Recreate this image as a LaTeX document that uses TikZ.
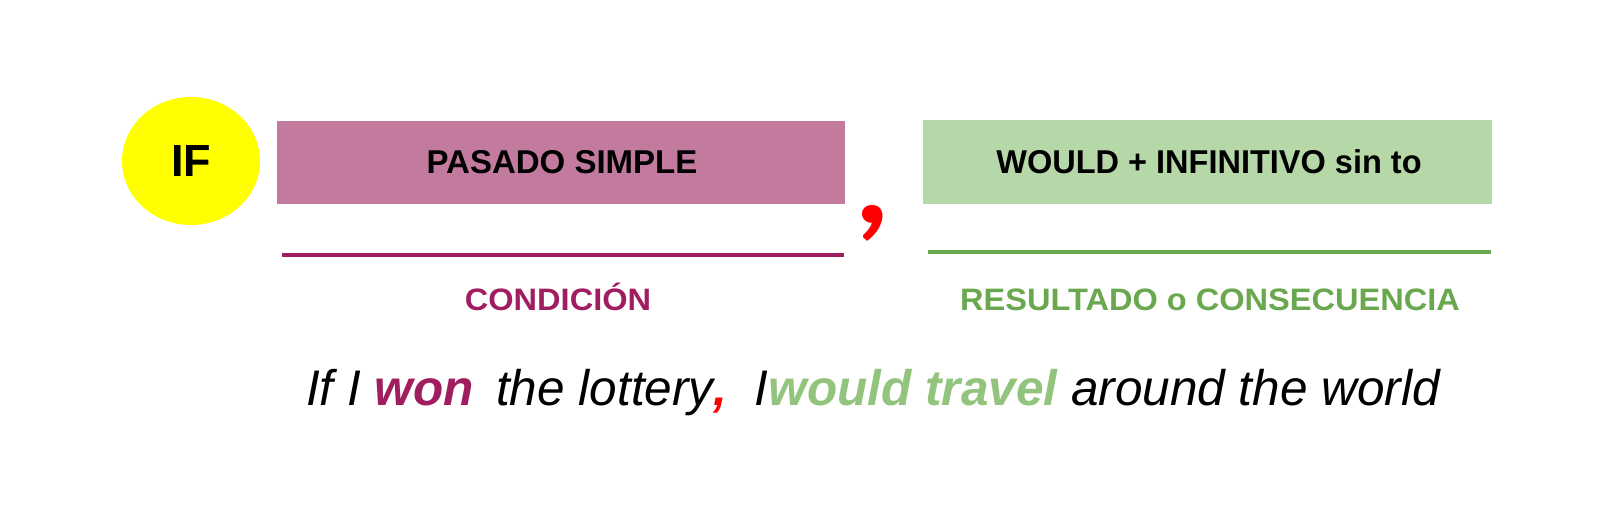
\documentclass[tikz,border=0pt]{standalone}
\usepackage{fontspec}
\setmainfont{Liberation Sans}
\newfontfamily\commafont{Lato}
\usetikzlibrary{shapes.geometric}
\definecolor{pinkbox}{RGB}{194,122,158}
\definecolor{darkpink}{RGB}{160,30,96}
\definecolor{greenbox}{RGB}{182,215,168}
\definecolor{darkgreen}{RGB}{106,168,79}
\definecolor{lightgreen}{RGB}{147,196,125}
\definecolor{ifyellow}{RGB}{255,255,0}
\tikzset{
  boxlabel/.style={font=\fontsize{33}{33}\selectfont\bfseries, text=black},
  sublabel/.style={font=\fontsize{31}{31}\selectfont\bfseries, anchor=base, xscale=1.05},
  ruleline/.style={line width=4pt},
}
\begin{document}
\begin{tikzpicture}[x=1pt,y=-1pt]
\useasboundingbox[fill=white] (0,0) rectangle (1600,518);
% IF ellipse
\node[ellipse,fill=ifyellow,minimum width=138pt,minimum height=128pt,inner sep=0pt,
  font=\fontsize{45}{45}\selectfont\bfseries] (if) at (191,161) {IF};
% boxes
\fill[pinkbox] (277,121) rectangle (845,204);
\node[boxlabel] (pas) at (562,162) {PASADO SIMPLE};
\fill[greenbox] (923,120) rectangle (1492,204);
\node[boxlabel,xscale=0.985] (would) at (1209,162) {WOULD + INFINITIVO sin to};
% big comma
\node[text=red,font=\fontsize{126}{126}\commafont\bfseries,inner sep=0pt,anchor=base,xscale=1.1] (comma) at (873,224) {,};
% lines
\coordinate (pl1) at (282,255); \coordinate (pl2) at (844,255);
\draw[ruleline,darkpink] (pl1) -- (pl2);
\coordinate (gl1) at (928,252); \coordinate (gl2) at (1491,252);
\draw[ruleline,darkgreen] (gl1) -- (gl2);
% sublabels
\node[sublabel,text=darkpink] (cond) at (558,311) {CONDICIÓN};
\node[sublabel,text=darkgreen] (res) at (1210,311) {RESULTADO o CONSECUENCIA};
% sentence
\node[anchor=base west,inner sep=0pt,font=\fontsize{50}{50}\selectfont\itshape,xscale=0.99] (sent) at (306,405)
 {If I \textcolor{darkpink}{\bfseries won}\hspace{0.45em}the lottery\textcolor{red}{\bfseries ,}\ \ I\textcolor{lightgreen}{\bfseries would travel} around the world};
\end{tikzpicture}
\end{document}
